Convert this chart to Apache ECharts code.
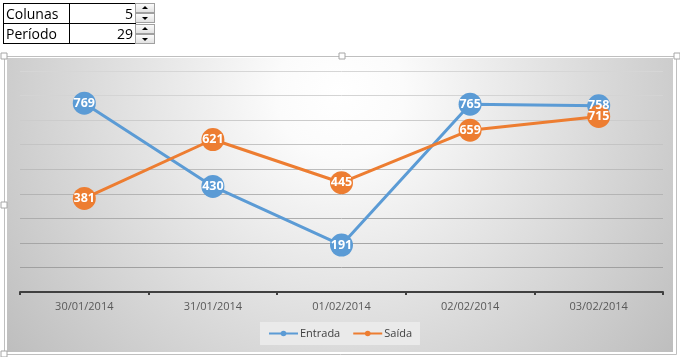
<!DOCTYPE html>
<html><head><meta charset="utf-8">
<script src="https://cdn.jsdelivr.net/npm/echarts@6/dist/echarts.min.js"></script>
<style>
html,body{margin:0;padding:0;background:#fff;}
#chart{position:absolute;left:0;top:0;width:680px;height:357px;}
#tbl{position:absolute;left:3px;top:3px;border-collapse:collapse;font-family:"Open Sans","Liberation Sans",sans-serif;font-size:14px;color:#000;z-index:2;}
#tbl td{border:1.5px solid #000;height:19px;padding:0 2px;line-height:19px;}
.spin{position:absolute;left:135px;width:20px;z-index:2;}
.btn{width:18px;height:8px;border:1px solid #a0a0a0;background:linear-gradient(#fbfbfb,#e2e2e2);position:relative;}
.btn span{position:absolute;left:6px;width:0;height:0;border-left:3px solid transparent;border-right:3px solid transparent;}
.up span{top:2px;border-bottom:3px solid #000;}
.dn span{top:3px;border-top:3px solid #000;}
</style></head>
<body>
<div id="chart"></div>
<table id="tbl">
<tr><td style="width:61px">Colunas</td><td style="width:61px;text-align:right">5</td></tr>
<tr><td>Período</td><td style="text-align:right">29</td></tr>
</table>
<div class="spin" style="top:3px"><div class="btn up"><span></span></div><div class="btn dn"><span></span></div></div>
<div class="spin" style="top:24px"><div class="btn up"><span></span></div><div class="btn dn"><span></span></div></div>
<script>
var categories = ['30/01/2014','31/01/2014','01/02/2014','02/02/2014','03/02/2014'];
var entrada = [769, 430, 191, 765, 758];
var saida = [381, 621, 445, 659, 715];
var seriesNames = ['Entrada','Saída'];
var colors = ['#5B9BD5','#ED7D31'];

var chart = echarts.init(document.getElementById('chart'));
function handle(x,y){return {type:'rect',shape:{x:x-3,y:y-3,width:6,height:6},style:{fill:'#fff',stroke:'#a6a6a6',lineWidth:1},z:5};}
function mkSeries(name, data, color){
  return {name:name,type:'line',data:data,symbol:'circle',symbolSize:23,
    lineStyle:{color:color,width:3},itemStyle:{color:color},
    label:{show:true,position:'inside',color:'#fff',fontWeight:'bold',fontSize:12.5,fontFamily:'"Open Sans","Liberation Sans",sans-serif'},
    emphasis:{disabled:true},animation:false};
}
chart.setOption({
  animation:false,
  graphic:[
    {type:'rect',shape:{x:4.5,y:56.5,width:672,height:298},style:{fill:'none',stroke:'#bfbfbf',lineWidth:1},z:-2},
    {type:'rect',shape:{x:7,y:58,width:666,height:294},style:{fill:{type:'radial',x:0.5,y:0.12,r:1.45,colorStops:[{offset:0,color:'#ffffff'},{offset:0.15,color:'#fbfbfb'},{offset:1,color:'#bdbdbd'}]}},z:-1},
    handle(4,56),handle(342,56),handle(677,56),handle(4,205),handle(4,354)
  ],
  grid:{left:20,right:17,top:71,bottom:65},
  legend:{data:seriesNames,bottom:12,left:'center',itemWidth:29,itemHeight:7,itemGap:12,
    backgroundColor:'rgba(236,236,236,0.85)',padding:[6,8,6,8],
    textStyle:{color:'#404040',fontSize:11,padding:[0,0,0,-3],fontFamily:'"Open Sans","Liberation Sans",sans-serif'}},
  xAxis:{type:'category',data:categories,boundaryGap:true,
    axisLine:{lineStyle:{color:'#404040',width:2}},
    axisTick:{show:true,length:3,lineStyle:{color:'#404040',width:2}},
    axisLabel:{color:'#595959',fontSize:11,margin:9,fontFamily:'"Open Sans","Liberation Sans",sans-serif'}},
  yAxis:{type:'value',min:0,max:900,interval:100,
    axisLabel:{show:false},axisLine:{show:false},axisTick:{show:false},
    splitLine:{lineStyle:{color:['#9a9a9a','#a0a0a0','#a6a6a6','#adadad','#b4b4b4','#bcbcbc','#c4c4c4','#cccccc','#d4d4d4','#d6d6d6'],width:1}}},
  series:[mkSeries(seriesNames[0],entrada,colors[0]),mkSeries(seriesNames[1],saida,colors[1])]
});
</script>
</body></html>
